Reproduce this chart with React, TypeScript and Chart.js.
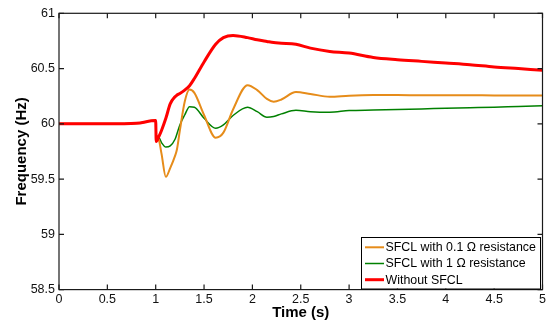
import React, { useEffect, useRef } from "react";
import { Chart, registerables } from "chart.js";

Chart.register(...registerables);

// ---- data ----
const times = [0, 0.5, 0.8, 1.0, 1.005, 1.03, 1.06, 1.105, 1.15, 1.2, 1.22, 1.25, 1.3, 1.35, 1.4, 1.5, 1.62, 1.7, 1.8, 1.95, 2.05, 2.15, 2.22, 2.3, 2.45, 2.6, 2.8, 3.0, 3.25, 3.5, 3.75, 4.0, 4.25, 4.5, 4.75, 5.0];

const freqSfcl01 = [60.0, 60.0, 60.005, 60.03, 59.9, 59.86, 59.73, 59.52, 59.6, 59.71, 59.77, 59.94, 60.2, 60.31, 60.28, 60.08, 59.875, 59.92, 60.13, 60.35, 60.305, 60.225, 60.2, 60.22, 60.287, 60.27, 60.245, 60.255, 60.26, 60.26, 60.258, 60.258, 60.258, 60.257, 60.257, 60.257];

const freqSfcl1 = [60.0, 60.0, 60.005, 60.03, 59.9, 59.88, 59.83, 59.79, 59.8, 59.86, 59.91, 59.99, 60.08, 60.155, 60.15, 60.05, 59.96, 59.99, 60.075, 60.15, 60.11, 60.06, 60.067, 60.09, 60.122, 60.11, 60.105, 60.12, 60.125, 60.13, 60.135, 60.14, 60.145, 60.15, 60.157, 60.163];

const freqNoSfcl = [60.0, 60.0, 60.005, 60.03, 59.84, 59.88, 59.94, 60.05, 60.18, 60.245, 60.26, 60.275, 60.305, 60.345, 60.41, 60.56, 60.72, 60.78, 60.8, 60.78, 60.76, 60.745, 60.735, 60.73, 60.72, 60.685, 60.655, 60.64, 60.6, 60.58, 60.565, 60.55, 60.535, 60.515, 60.5, 60.485];

const seriesLabels = ["SFCL with 0.1 \u03A9 resistance", "SFCL with 1 \u03A9 resistance", "Without SFCL"];
const seriesColors = ["#E68C1A", "#008000", "#FF0000"];
const seriesWidths = [2, 1.5, 3];

const xTicks = [0, 0.5, 1, 1.5, 2, 2.5, 3, 3.5, 4, 4.5, 5];
const yTicks = [58.5, 59, 59.5, 60, 60.5, 61];

const FONT = "'Liberation Sans', Arial, Helvetica, sans-serif";

const framePlugin = {
  id: "frameAndLegend",
  afterDatasetsDraw(chart: any) {
    const { ctx, chartArea, scales } = chart;
    const { left, right, top, bottom } = chartArea;
    ctx.save();
    ctx.strokeStyle = "#1a1a1a";
    ctx.lineWidth = 1.2;
    ctx.strokeRect(left, top, right - left, bottom - top);
    const L = 5;
    ctx.beginPath();
    xTicks.forEach((v) => {
      const px = scales.x.getPixelForValue(v);
      ctx.moveTo(px, bottom);
      ctx.lineTo(px, bottom - L);
      ctx.moveTo(px, top);
      ctx.lineTo(px, top + L);
    });
    yTicks.forEach((v) => {
      const py = scales.y.getPixelForValue(v);
      ctx.moveTo(left, py);
      ctx.lineTo(left + L, py);
      ctx.moveTo(right, py);
      ctx.lineTo(right - L, py);
    });
    ctx.stroke();

    // legend box
    const bx = 361, by = 237, bw = 179, bh = 51.5;
    ctx.fillStyle = "#fff";
    ctx.fillRect(bx, by, bw, bh);
    ctx.strokeStyle = "#000";
    ctx.lineWidth = 1;
    ctx.strokeRect(bx + 0.5, by + 0.5, bw, bh);
    ctx.font = `12.4px ${FONT}`;
    ctx.textBaseline = "middle";
    ctx.textAlign = "left";
    seriesLabels.forEach((lab, i) => {
      const y = 247.3 + i * 16.2;
      ctx.strokeStyle = seriesColors[i];
      ctx.lineWidth = seriesWidths[i];
      ctx.beginPath();
      ctx.moveTo(365, y);
      ctx.lineTo(384, y);
      ctx.stroke();
      ctx.fillStyle = "#000";
      ctx.fillText(lab, 385.5, y + 0.5);
    });
    ctx.restore();
  },
};

export default function App() {
  const ref = useRef<HTMLCanvasElement | null>(null);

  useEffect(() => {
    if (!ref.current) return;
    const order = [2, 0, 1];
    const datasets = order.map((i) => {
      const vals = [freqSfcl01, freqSfcl1, freqNoSfcl][i];
      return {
        label: seriesLabels[i],
        data: times.map((t, k) => ({ x: t, y: vals[k] })),
        borderColor: seriesColors[i],
        borderWidth: seriesWidths[i],
        pointRadius: 0,
        fill: false,
        cubicInterpolationMode: "monotone" as const,
      };
    });
    const chart = new Chart(ref.current, {
      type: "line",
      data: { datasets },
      options: {
        animation: false,
        responsive: true,
        maintainAspectRatio: false,
        layout: { padding: { top: 13.3, right: 9.5, bottom: 0, left: 0 } },
        plugins: {
          legend: { display: false },
          tooltip: { enabled: false },
        },
        scales: {
          x: {
            type: "linear",
            min: 0,
            max: 5,
            afterFit: (s: any) => {
              s.height = 37.4;
            },
            afterBuildTicks: (s: any) => {
              s.ticks = xTicks.map((v) => ({ value: v }));
            },
            grid: { display: false, drawTicks: false },
            border: { display: false },
            ticks: {
              padding: 2.5,
              color: "#111",
              font: { family: FONT, size: 12.5 },
              maxRotation: 0,
              autoSkip: false,
              callback: (v: any) => String(Number(v)),
            },
            title: {
              display: true,
              text: "Time (s)",
              color: "#000",
              font: { family: FONT, size: 15, weight: "bold" },
              padding: { top: 0, bottom: 5 },
            },
          },
          y: {
            type: "linear",
            min: 58.5,
            max: 61,
            afterFit: (s: any) => {
              s.width = 59;
            },
            afterBuildTicks: (s: any) => {
              s.ticks = yTicks.map((v) => ({ value: v }));
            },
            grid: { display: false, drawTicks: false },
            border: { display: false },
            ticks: {
              padding: 4,
              color: "#111",
              font: { family: FONT, size: 12.5 },
              autoSkip: false,
              callback: (v: any) => String(Number(v)),
            },
            title: {
              display: true,
              text: "Frequency (Hz)",
              color: "#000",
              font: { family: FONT, size: 15, weight: "bold" },
              padding: { top: 12.7, bottom: 0 },
            },
          },
        },
      },
      plugins: [framePlugin],
    });
    return () => chart.destroy();
  }, []);

  return (
    <div style={{ position: "fixed", left: 0, top: 0, width: 552, height: 327, background: "#fff" }}>
      <canvas ref={ref} />
    </div>
  );
}
